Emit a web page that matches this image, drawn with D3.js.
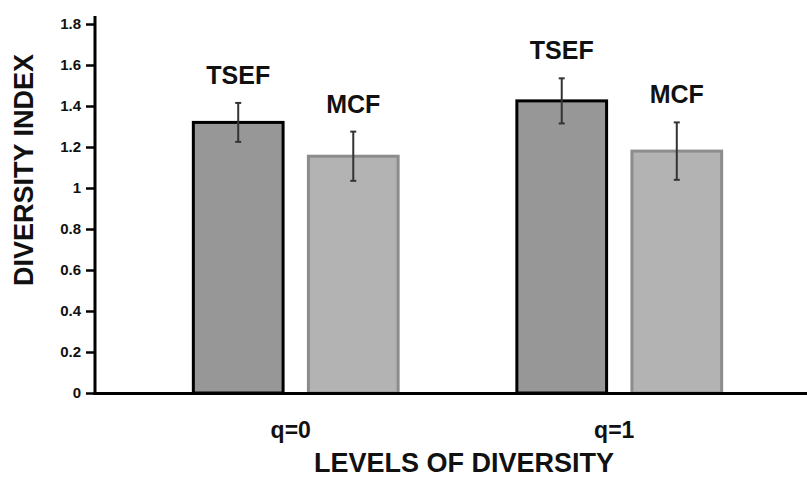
<!DOCTYPE html>
<html>
<head>
  <style>
    body { margin: 0; background: #fff; }
    text { font-family: "Liberation Sans", Arial, sans-serif; font-weight: bold; }
  </style>
</head>
<body>
  <svg id="chart" width="807" height="477"></svg>
  <script src="https://d3js.org/d3.v7.min.js"></script>
  <script>
    const groups = ['q=0', 'q=1']
    const series = ['TSEF', 'MCF']
    const tsefVals = [1.32, 1.425]
    const tsefErr = [0.095, 0.11]
    const mcfVals = [1.155, 1.18]
    const mcfErr = [0.12, 0.14]
    const yTicks = [0, 0.2, 0.4, 0.6, 0.8, 1, 1.2, 1.4, 1.6, 1.8]

    const rows = []
    groups.forEach((g, i) => {
      rows.push({ group: g, s: 'TSEF', v: tsefVals[i], e: tsefErr[i] })
      rows.push({ group: g, s: 'MCF', v: mcfVals[i], e: mcfErr[i] })
    })

    const svg = d3.select('#chart')
    const axisX = 95, baseY = 393

    const y = d3.scaleLinear().domain([0, 1.8]).range([baseY, 24])
    const x0 = d3.scaleBand().domain(groups).range([axisX, 820])
      .paddingInner(0.367).paddingOuter(0.304)
    const x1 = d3.scaleBand().domain(series).range([0, x0.bandwidth()])
      .paddingInner(0.22).paddingOuter(0)

    const fill = { TSEF: '#979797', MCF: '#b3b3b3' }
    const stroke = { TSEF: '#000', MCF: '#8c8c8c' }

    // bars
    const bars = svg.append('g').selectAll('g').data(rows).enter().append('g')
      .attr('transform', d => `translate(${x0(d.group) + x1(d.s)},0)`)

    bars.append('rect')
      .attr('x', 0)
      .attr('y', d => y(d.v))
      .attr('width', x1.bandwidth())
      .attr('height', d => y(0) - y(d.v))
      .attr('fill', d => fill[d.s])
      .attr('stroke', d => stroke[d.s])
      .attr('stroke-width', 3)

    // error bars
    const cx = x1.bandwidth() / 2
    bars.append('line')
      .attr('x1', cx).attr('x2', cx)
      .attr('y1', d => y(d.v + d.e)).attr('y2', d => y(d.v - d.e))
      .attr('stroke', '#333').attr('stroke-width', 2)
    bars.append('line')
      .attr('x1', cx - 3).attr('x2', cx + 3)
      .attr('y1', d => y(d.v + d.e)).attr('y2', d => y(d.v + d.e))
      .attr('stroke', '#333').attr('stroke-width', 2)
    bars.append('line')
      .attr('x1', cx - 3).attr('x2', cx + 3)
      .attr('y1', d => y(d.v - d.e)).attr('y2', d => y(d.v - d.e))
      .attr('stroke', '#333').attr('stroke-width', 2)

    // series labels
    bars.append('text')
      .attr('x', cx)
      .attr('y', d => y(d.v + d.e) - 19)
      .attr('text-anchor', 'middle')
      .attr('font-size', 25)
      .attr('fill', '#111')
      .text(d => d.s)

    // y axis
    const yAxis = svg.append('g')
      .attr('transform', `translate(${axisX},0)`)
      .call(d3.axisLeft(y).tickValues(yTicks).tickSize(9).tickPadding(5)
        .tickFormat(d => String(+d.toFixed(1))))
    yAxis.select('.domain').remove()
    yAxis.selectAll('.tick line').attr('stroke', '#000').attr('stroke-width', 2.5)
    yAxis.selectAll('.tick text').attr('font-size', 15).attr('fill', '#111')
      .style('font-weight', 'bold')
    svg.append('line')
      .attr('x1', axisX).attr('x2', axisX).attr('y1', 16).attr('y2', baseY + 1.5)
      .attr('stroke', '#000').attr('stroke-width', 3)

    // x axis
    svg.append('line')
      .attr('x1', axisX - 1.5).attr('x2', 807).attr('y1', baseY + 0.5).attr('y2', baseY + 0.5)
      .attr('stroke', '#000').attr('stroke-width', 3)

    svg.append('g').selectAll('text').data(groups).enter().append('text')
      .attr('x', d => x0(d) + x0.bandwidth() / 2 - 5)
      .attr('y', 438)
      .attr('text-anchor', 'middle')
      .attr('font-size', 23)
      .attr('fill', '#111')
      .text(d => d)

    // titles
    svg.append('text')
      .attr('x', 464).attr('y', 472)
      .attr('text-anchor', 'middle')
      .attr('font-size', 27)
      .attr('fill', '#111')
      .text('LEVELS OF DIVERSITY')

    svg.append('text')
      .attr('transform', 'translate(33,170) rotate(-90)')
      .attr('text-anchor', 'middle')
      .attr('font-size', 27)
      .attr('fill', '#111')
      .text('DIVERSITY INDEX')
  </script>
</body>
</html>
